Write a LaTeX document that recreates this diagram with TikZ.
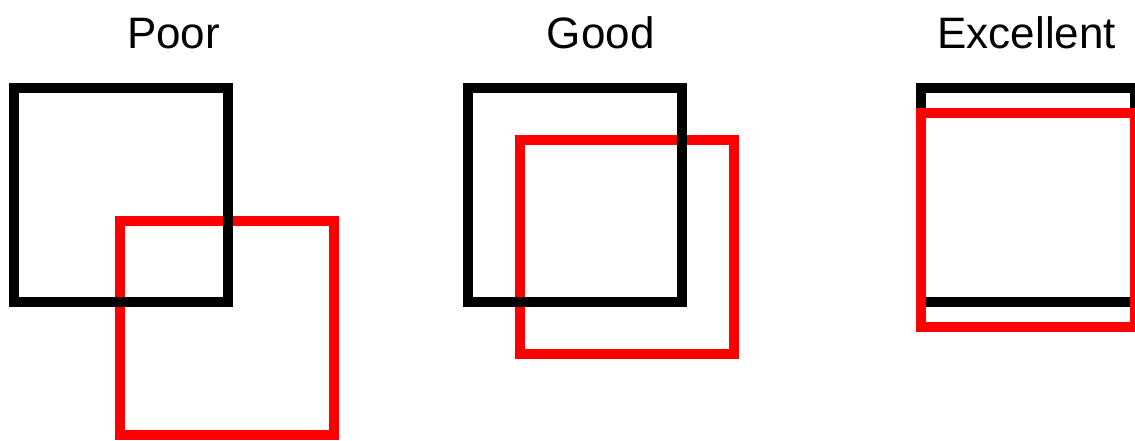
\documentclass[tikz,border=0pt]{standalone}
\usepackage{fontspec}
\setmainfont{Liberation Sans}
\usetikzlibrary{positioning}

\begin{document}
\begin{tikzpicture}[x=0.5pt, y=-0.5pt,
  box/.style={draw, line width=5pt, rectangle, inner sep=0pt, minimum size=107pt},
  truth/.style={box, draw=black},
  guess/.style={box, draw=red},
  title/.style={anchor=base, font=\fontsize{22}{26}\selectfont}]
\useasboundingbox (0,0) rectangle (1135,440);
\clip (0,0) rectangle (1135,440);
\node[guess] (poorred) at (227,328) {};
\node[truth] (poorblack) at (120.5,194.5) {};
\node[title] (poor) at (173.5,48.3) {Poor};
\node[guess] (goodred) at (627.3,247.3) {};
\node[truth] (goodblack) at (574.6,194.8) {};
\node[title] (good) at (600.8,48.3) {Good};
\node[truth] (excblack) at (1027.5,194.9) {};
\node[guess] (excred) at (1028,219.7) {};
\node[title] (exc) at (1026.7,48.3) {Excellent};
\end{tikzpicture}
\end{document}
